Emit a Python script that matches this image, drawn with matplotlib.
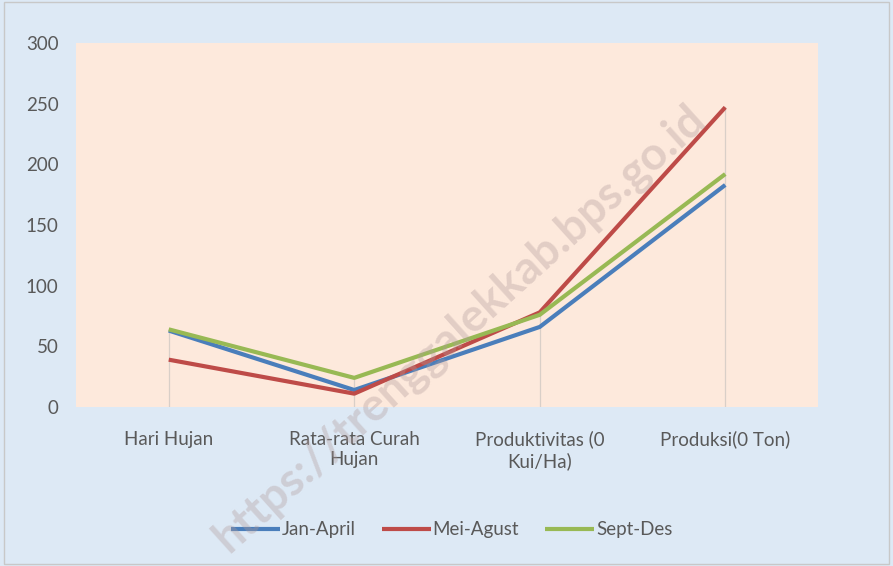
import matplotlib.pyplot as plt
from matplotlib.patches import Rectangle

categories = ["Hari Hujan", "Rata-rata Curah\nHujan", "Produktivitas (0\nKui/Ha)", "Produksi(0 Ton)"]
jan_april = [63, 14, 66, 183]
mei_agust = [39, 11, 78, 247]
sept_des = [64, 24, 76, 192]

plt.rcParams["font.family"] = ["Lato", "DejaVu Sans"]

fig = plt.figure(figsize=(8.93, 5.66), dpi=100, facecolor="#dde9f5")
ax = fig.add_axes([76 / 893, 1 - 407 / 566, 742 / 893, 364 / 566])
ax.set_facecolor("#fde9dc")

x = [i + 0.5 for i in range(len(categories))]
series = [("Jan-April", jan_april, "#4a7ebb"),
          ("Mei-Agust", mei_agust, "#be4b48"),
          ("Sept-Des", sept_des, "#98b954")]

# drop lines from the highest point down to the axis
for xi, vals in zip(x, zip(jan_april, mei_agust, sept_des)):
    ax.plot([xi, xi], [0, max(vals)], color="#d9cfc8", lw=0.9, zorder=1)

for name, vals, col in series:
    ax.plot(x, vals, color=col, lw=3, label=name, zorder=3, solid_capstyle="butt")

ax.set_xlim(0, len(categories))
ax.set_ylim(0, 300)
ax.set_yticks(range(0, 301, 50))
ax.set_xticks(x)
ax.set_xticklabels(categories, fontsize=13.5, color="#595959", linespacing=1.25)
ax.tick_params(axis="y", labelsize=13.5, labelcolor="#595959", length=0, pad=12.5)
ax.tick_params(axis="x", length=0, pad=17)
for s in ax.spines.values():
    s.set_visible(False)

leg = fig.legend(loc="center", bbox_to_anchor=(0.506, 1 - 530 / 566), ncol=3, frameon=False,
                 fontsize=13.5, handlelength=2.6, handletextpad=0.1, columnspacing=1.4)
for t in leg.get_texts():
    t.set_color("#595959")

# watermark
fig.text(0.515, 0.42, "https://trenggalekkab.bps.go.id", rotation=42, fontsize=33,
         fontweight="bold", color="#b09a9a", alpha=0.35, ha="center", va="center", zorder=10)

fig.patches.append(Rectangle((0.004, 0.004), 0.992, 0.992, transform=fig.transFigure,
                             fill=False, edgecolor="#c8c8c8", lw=1))

fig.savefig("out.png", dpi=100, facecolor=fig.get_facecolor())
